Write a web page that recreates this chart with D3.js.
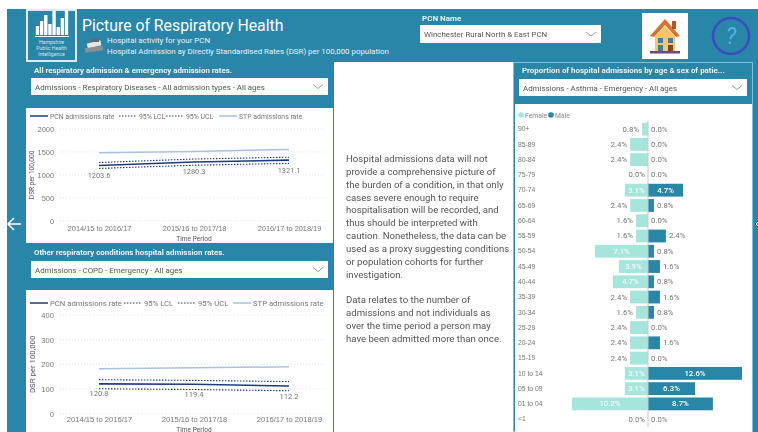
<!DOCTYPE html>
<html lang="en">

<head>
    <meta charset="UTF-8">
    <title>Picture of Respiratory Health</title>
    <style>
        html, body { margin: 0; padding: 0; background: #fff; overflow: hidden; }
        svg { display: block; filter: blur(0.35px); font-family: Roboto, "Open Sans", sans-serif; }
        .axis .domain { display: none; }
        .axis .tick text { fill: #777; }
        .grid line { stroke: #e4e4e4; stroke-dasharray: 1 2; }
    </style>
</head>

<body>
    <script src="https://d3js.org/d3.v7.min.js"></script>
    <script>
        var periods = ["2014/15 to 2016/17", "2015/16 to 2017/18", "2016/17 to 2018/19"];

        // all respiratory chart
        var allPcn = [1203.6, 1280.3, 1321.1];
        var allLcl = [1140, 1210, 1250];
        var allUcl = [1270, 1345, 1385];
        var allStp = [1480, 1510, 1555];
        var allTicks = [0, 500, 1000, 1500, 2000];

        // other conditions chart
        var otherPcn = [120.8, 119.4, 112.2];
        var otherLcl = [101, 98, 93];
        var otherUcl = [138, 135, 130];
        var otherStp = [182, 186, 190];
        var otherTicks = [0, 100, 200, 300, 400];

        // age / sex pyramid
        var ages = ["90+", "85-89", "80-84", "75-79", "70-74", "65-69", "60-64", "55-59", "50-54", "45-49",
            "40-44", "35-39", "30-34", "25-29", "20-24", "15-19", "10 to 14", "05 to 09", "01 to 04", "<1"];
        var female = [0.8, 2.4, 2.4, 0, 3.1, 2.4, 1.6, 1.6, 7.1, 3.9, 4.7, 2.4, 1.6, 2.4, 2.4, 2.4, 3.1, 3.1, 10.2, 0];
        var male = [0, 0, 0, 0, 4.7, 0.8, 0, 2.4, 0.8, 1.6, 0.8, 1.6, 0.8, 0, 1.6, 0, 12.6, 6.3, 8.7, 0];

        var bodyText = ["Hospital admissions data will not", "provide a comprehensive picture of",
            "the burden of a condition, in that only", "cases severe enough to require",
            "hospitalisation will be recorded, and", "thus should be interpreted with",
            "caution.  Nonetheless, the data can be", "used as a proxy suggesting conditions",
            "or population cohorts for further", "investigation.", "",
            "Data relates to the number of", "admissions and not individuals as",
            "over the time period a person may", "have been admitted more than once."];

        var logoBars = [9, 14, 20, 11, 24, 8, 17, 25];

        var teal = "#2a86a8", navy = "#1f3a7c", stpBlue = "#a9c2e0", maleCol = "#2a86a6", femaleCol = "#a6e5dc";

        var svg = d3.select("body").append("svg").attr("width", 758).attr("height", 432);

        function box(x, y, w, h, fill, stroke) {
            return svg.append("rect").attr("x", x).attr("y", y).attr("width", w).attr("height", h)
                .attr("fill", fill).attr("stroke", stroke || "none");
        }
        function label(x, y, str, size, fill, weight, anchor) {
            return svg.append("text").attr("x", x).attr("y", y).text(str)
                .attr("font-size", size).attr("fill", fill)
                .attr("font-weight", weight || 400).attr("text-anchor", anchor || "start");
        }
        function dropdown(x, y, w, h, str) {
            box(x, y, w, h, "#fff");
            label(x + 4, y + h / 2 + 3, str, 7.9, "#555");
            svg.append("path")
                .attr("d", d3.line()([[x + w - 15, y + h / 2 - 2], [x + w - 10, y + h / 2 + 2], [x + w - 5, y + h / 2 - 2]]))
                .attr("fill", "none").attr("stroke", "#9a9a9a");
        }

        // background + panels
        box(7, 9, 751, 423, teal);
        box(334, 62, 179, 370, "#fff");
        box(513.5, 62.5, 239, 369, "none", "#7fc0d6");
        box(26, 108, 307, 135, "#fff");
        box(26, 290, 307, 142, "#fff");
        box(515, 104, 237, 328, "#fff");

        // logo
        box(27, 10, 49, 51, teal, "#dfe9ee").attr("stroke-width", 2);
        var logoX = d3.scaleBand().domain(d3.range(logoBars.length)).range([35, 69]).padding(0.2);
        logoBars.forEach(function (d, i) {
            box(logoX(i), 35 - d, logoX.bandwidth(), d, "#fff");
        });
        box(35, 36, 34, 1, "#fff");
        ["Hampshire", "Public Health", "Intelligence"].forEach(function (d, i) {
            label(51.5, 44 + i * 6, d, 5.2, "#cfe3ea", 400, "middle");
        });

        // header
        label(82, 31, "Picture of Respiratory Health", 15.8, "#fff");
        label(107, 43, "Hospital activity for your PCN", 7.9, "#e8f3f6");
        label(107, 54, "Hospital Admission ay Directly Standardised Rates (DSR) per 100,000 population", 7.9, "#e8f3f6");
        // small books icon
        box(87, 42, 14, 5, "#e6e6e6").attr("transform", "rotate(-14 94 44)");
        box(85, 47, 18, 4.5, "#8a8f96").attr("transform", "rotate(-8 94 49)");
        box(90, 38.5, 9, 3.5, "#5f6b73");

        label(422, 21, "PCN Name", 8, "#e8f3f6", 700);
        dropdown(420, 25, 181, 18, "Winchester Rural North & East PCN");

        // house icon
        box(642, 13, 46, 46, "#fff");
        svg.append("path").attr("d", "M650 36 L665 19 L680 36 L676 37 L665 25 L654 37 Z").attr("fill", "#d9722e");
        svg.append("path").attr("d", "M655 36 L665 26 L675 36 L675 51 L655 51 Z").attr("fill", "#f5c66e");
        box(672, 21, 4, 8, "#b5562a");
        box(658, 38, 5, 5, "#3d7f9c");
        box(668, 38, 5, 5, "#3d7f9c");
        box(658, 45, 5, 6, "#3d7f9c");
        box(668, 45, 5, 6, "#7b4a2c");
        box(650, 51, 30, 2.5, "#6b4a7a");

        // help circle
        svg.append("circle").attr("cx", 731).attr("cy", 36).attr("r", 18)
            .attr("fill", "none").attr("stroke", "#3a4cc0").attr("stroke-width", 2.5);
        label(731, 44, "?", 23, "#4fb4e0", 400, "middle").attr("font-style", "italic");

        // section titles
        label(34, 73, "All respiratory admission & emergency admission rates.", 7.9, "#e8f3f6", 700);
        dropdown(31, 78, 297, 17, "Admissions - Respiratory Diseases - All admission types - All ages");
        label(34, 255, "Other respiratory conditions hospital admission rates.", 7.9, "#e8f3f6", 700);
        dropdown(31, 261, 297, 17, "Admissions - COPD - Emergency - All ages");
        label(522, 73, "Proportion of hospital admissions by age & sex of patie...", 7.9, "#e8f3f6", 700);
        dropdown(519, 79, 228, 17, "Admissions - Asthma - Emergency - All ages");

        // nav arrows
        svg.append("path").attr("d", "M21 224 H9 M14 218 L8 224 L14 230").attr("fill", "none").attr("stroke", "#fff").attr("stroke-width", 1.6);
        svg.append("path").attr("d", "M758 222 L756 224 L758 226").attr("fill", "none").attr("stroke", "#fff");

        // centre text
        bodyText.forEach(function (d, i) {
            label(346, 162 + i * 12.85, d, 9.6, "#555");
        });

        function lineChart(cfg) {
            var x = d3.scalePoint().domain(periods).range([cfg.x0, cfg.x1]);
            var y = d3.scaleLinear().domain(cfg.domain).range([cfg.yBottom, cfg.yTop]);
            var line = d3.line().x(function (d, i) { return x(periods[i]); }).y(function (d) { return y(d); });

            svg.append("g").attr("class", "grid").selectAll("line").data(cfg.ticks).join("line")
                .attr("x1", 60).attr("x2", 325).attr("y1", function (d) { return y(d); }).attr("y2", function (d) { return y(d); });

            svg.append("g").attr("class", "axis").attr("transform", "translate(57,0)")
                .call(d3.axisLeft(y).tickValues(cfg.ticks).tickSize(0).tickFormat(d3.format("d")))
                .selectAll("text").attr("font-size", cfg.font).attr("font-family", "inherit");
            svg.append("g").attr("class", "axis").attr("transform", "translate(0," + (cfg.yBottom + 1) + ")")
                .call(d3.axisBottom(x).tickSize(0).tickPadding(cfg.tickPad))
                .selectAll("text").attr("font-size", cfg.font).attr("font-family", "inherit");

            svg.append("path").attr("d", line(cfg.stp)).attr("fill", "none").attr("stroke", stpBlue).attr("stroke-width", 1.5);
            [cfg.lcl, cfg.ucl].forEach(function (s) {
                svg.append("path").attr("d", line(s)).attr("fill", "none").attr("stroke", navy)
                    .attr("stroke-width", 1.1).attr("stroke-dasharray", "1.5 1.5");
            });
            svg.append("path").attr("d", line(cfg.pcn)).attr("fill", "none").attr("stroke", navy).attr("stroke-width", 1.6);

            cfg.pcn.forEach(function (d, i) {
                label(x(periods[i]), y(d) + 12.5, d, cfg.font, "#777", 400, "middle");
            });

            label(194, cfg.titleY, "Time Period", cfg.titleFont, "#555", 400, "middle");
            var yt = (cfg.yBottom + cfg.yTop) / 2;
            label(cfg.yTitleX, yt, cfg.yTitle, cfg.yTitleFont, "#555", 400, "middle")
                .attr("transform", "rotate(-90 " + cfg.yTitleX + " " + yt + ")");

            // legend
            cfg.legend.forEach(function (l) {
                svg.append("line").attr("x1", l.x).attr("x2", l.x + 18).attr("y1", cfg.legendY).attr("y2", cfg.legendY)
                    .attr("stroke", l.col).attr("stroke-width", l.dash ? 1.1 : 1.5)
                    .attr("stroke-dasharray", l.dash ? "1.5 1.5" : null);
                label(l.x + 20, cfg.legendY + 3, l.name, cfg.legendFont, "#777");
            });
        }

        lineChart({
            x0: 99, x1: 289, domain: [0, 2000], yBottom: 220.7, yTop: 129, ticks: allTicks,
            pcn: allPcn, lcl: allLcl, ucl: allUcl, stp: allStp, font: 7.4, tickPad: 4,
            titleY: 240.5, titleFont: 6.6, yTitle: "DSR per 100,000", yTitleFont: 6.6, yTitleX: 34,
            legendY: 116, legendFont: 6.9,
            legend: [
                { x: 30, name: "PCN admissions rate", col: navy },
                { x: 119, name: "95% LCL", col: navy, dash: true },
                { x: 166, name: "95% UCL", col: navy, dash: true },
                { x: 219, name: "STP admissions rate", col: stpBlue }
            ]
        });

        lineChart({
            x0: 99, x1: 289, domain: [0, 400], yBottom: 413.7, yTop: 315, ticks: otherTicks,
            pcn: otherPcn, lcl: otherLcl, ucl: otherUcl, stp: otherStp, font: 7.6, tickPad: 2,
            titleY: 431.5, titleFont: 6.6, yTitle: "DSR per 100,000", yTitleFont: 7.8, yTitleX: 35,
            legendY: 303, legendFont: 7.7,
            legend: [
                { x: 30, name: "PCN admissions rate", col: navy },
                { x: 124, name: "95% LCL", col: navy, dash: true },
                { x: 178, name: "95% UCL", col: navy, dash: true },
                { x: 233, name: "STP admissions rate", col: stpBlue }
            ]
        });

        // pyramid
        var bandY = d3.scaleBand().domain(ages).range([121.5, 426.8]).paddingInner(0.16).paddingOuter(0.08);
        var barLen = d3.scaleLinear().domain([0, 12.6]).range([0, 94]);
        var cx = 648;

        svg.append("circle").attr("cx", 521).attr("cy", 115).attr("r", 2.8).attr("fill", femaleCol);
        label(525, 117.5, "Female", 6.8, "#888");
        svg.append("circle").attr("cx", 551).attr("cy", 115).attr("r", 2.8).attr("fill", maleCol);
        label(555, 117.5, "Male", 6.8, "#888");

        svg.selectAll(".f").data(female).join("rect").attr("class", "f")
            .attr("x", function (d) { return cx - barLen(d); })
            .attr("y", function (d, i) { return bandY(ages[i]); })
            .attr("width", function (d) { return barLen(d); })
            .attr("height", bandY.bandwidth()).attr("fill", femaleCol);
        svg.selectAll(".m").data(male).join("rect").attr("class", "m")
            .attr("x", cx)
            .attr("y", function (d, i) { return bandY(ages[i]); })
            .attr("width", function (d) { return barLen(d); })
            .attr("height", bandY.bandwidth()).attr("fill", maleCol);
        svg.append("line").attr("x1", cx).attr("x2", cx).attr("y1", 121).attr("y2", 427).attr("stroke", "#c9c9c9");

        var yAges = d3.axisLeft(bandY).tickSize(0);
        svg.append("g").attr("class", "axis").attr("transform", "translate(541,0)").call(yAges)
            .selectAll("text").attr("font-size", 6.8).attr("font-family", "inherit").attr("x", -23).attr("text-anchor", "start");

        // labels inside the bar when it is long enough, otherwise beside it
        ages.forEach(function (a, i) {
            var yy = bandY(a) + bandY.bandwidth() / 2 + 2.5;
            var fl = barLen(female[i]), ml = barLen(male[i]);
            if (female[i] > 3) label(cx - fl / 2, yy, female[i].toFixed(1) + "%", 7.8, "#fff", 400, "middle");
            else label(cx - fl - 3, yy, female[i].toFixed(1) + "%", 7.8, "#777", 400, "end");
            if (male[i] > 3) label(cx + ml / 2, yy, male[i].toFixed(1) + "%", 7.8, "#fff", 500, "middle");
            else label(cx + ml + 3, yy, male[i].toFixed(1) + "%", 7.8, "#777");
        });
    </script>
</body>

</html>
